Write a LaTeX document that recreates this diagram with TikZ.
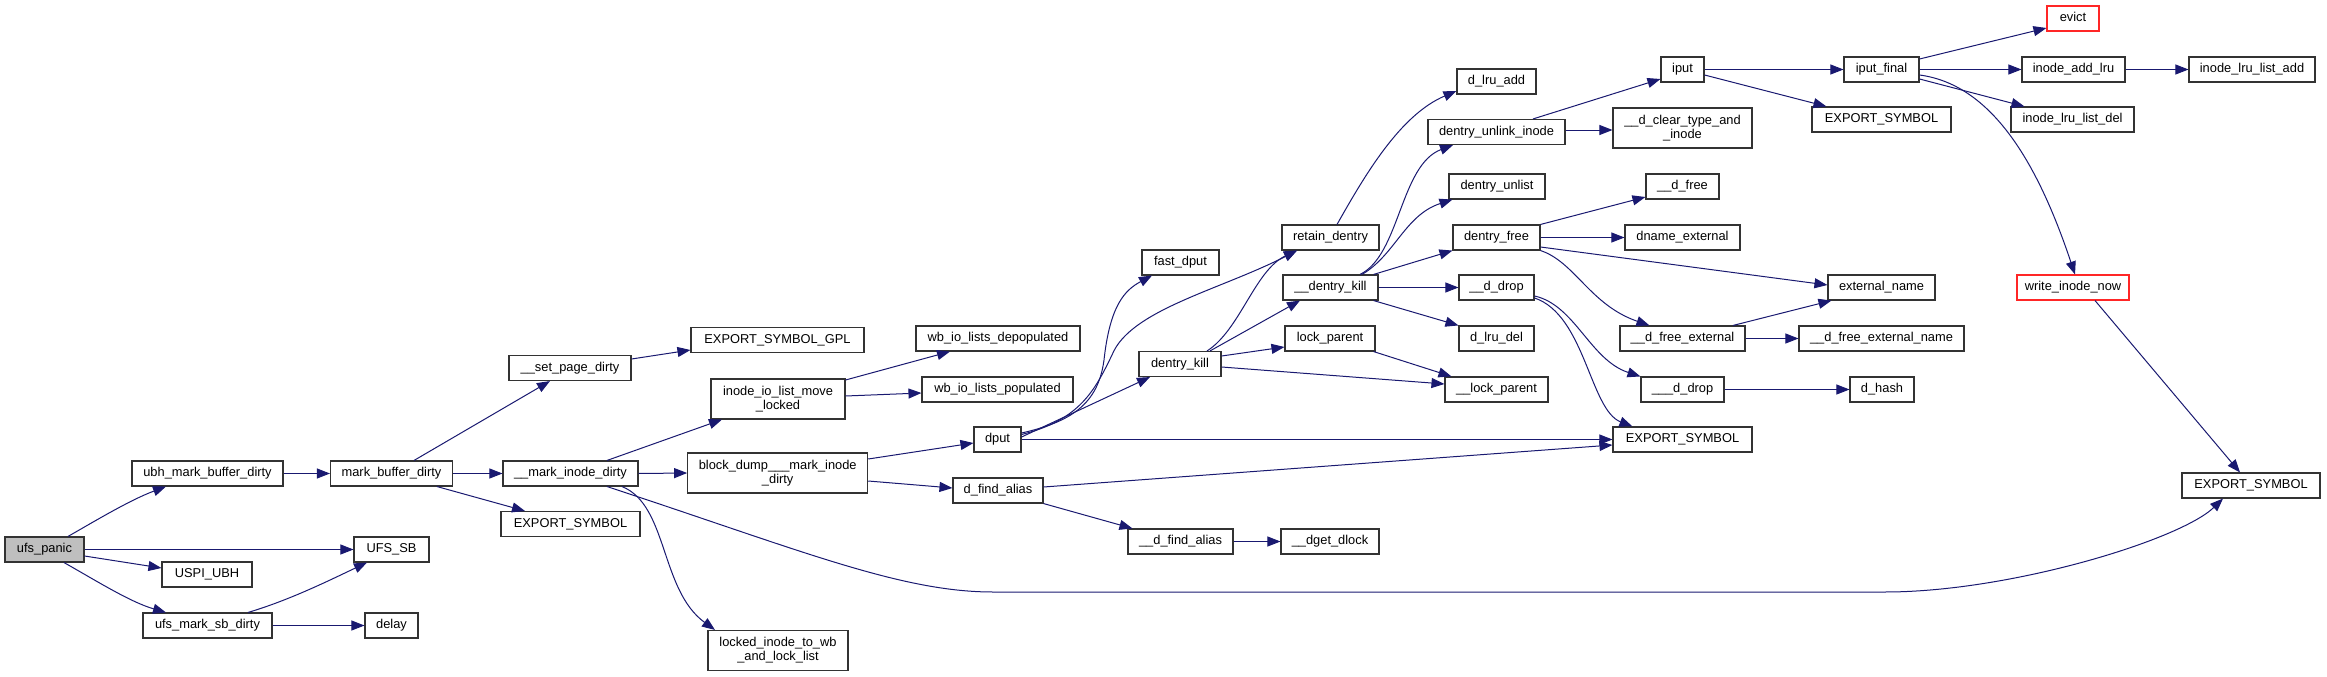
\documentclass[tikz,border=0pt]{standalone}
\usepackage{fontspec}
\setmainfont{Liberation Sans}
\usetikzlibrary{arrows.meta,calc}
\definecolor{edgeblue}{HTML}{191970}
\definecolor{grayfill}{HTML}{BFBFBF}
\begin{document}
\begin{tikzpicture}[x=1pt,y=-1pt,
  fn/.style={draw=black!80, line width=1.1pt, fill=white, inner sep=0pt,
    minimum height=25pt, font=\fontsize{12.85}{14}\selectfont,
    text height=9.3pt, text depth=2.7pt},
  fntwo/.style={draw=black!80, line width=1.1pt, fill=white, inner sep=0pt,
    minimum height=40pt, font=\fontsize{12.85}{14}\selectfont, align=center},
  redbox/.style={draw=red!85!white},
  edge/.style={draw=edgeblue, line width=1pt, -{Triangle[length=13pt,width=10pt]}}]
\useasboundingbox (0,0) rectangle (2327,677);

% column 0-1
\node[fn, minimum width=79pt, fill=grayfill] (panic) at (44.5,549.5) {ufs\_panic};
\node[fn, minimum width=151pt] (ubh) at (207.5,473.5) {ubh\_mark\_buffer\_dirty};
\node[fn, minimum width=90pt] (uspi) at (207,574.5) {USPI\_UBH};
\node[fn, minimum width=129pt] (umsd) at (207.5,625.5) {ufs\_mark\_sb\_dirty};
% column 2
\node[fn, minimum width=75pt] (ufssb) at (391.5,549.5) {UFS\_SB};
\node[fn, minimum width=53pt] (delay) at (391.5,625.5) {delay};
\node[fn, minimum width=122pt] (mbd) at (391.5,473.5) {mark\_buffer\_dirty};
% column 3
\node[fn, minimum width=122pt] (spd) at (570,368) {\_\_set\_page\_dirty};
\node[fn, minimum width=135pt] (mid) at (570.5,473.5) {\_\_mark\_inode\_dirty};
\node[fn, minimum width=139pt] (esb) at (570.5,524) {EXPORT\_SYMBOL};
% column 4
\node[fn, minimum width=173pt] (gpl) at (777.5,340) {EXPORT\_SYMBOL\_GPL};
\node[fntwo, minimum width=134pt] (iio) at (778,399) {inode\_io\_list\_move\\\_locked};
\node[fntwo, minimum width=180pt] (bd) at (777.7,473) {block\_dump\_\_\_mark\_inode\\\_dirty};
\node[fntwo, minimum width=140pt] (locked) at (778,650.5) {locked\_inode\_to\_wb\\\_and\_lock\_list};
% column 5
\node[fn, minimum width=164pt] (depop) at (998,338.5) {wb\_io\_lists\_depopulated};
\node[fn, minimum width=151pt] (pop) at (997.5,389.5) {wb\_io\_lists\_populated};
\node[fn, minimum width=47pt] (dput) at (997.5,439.5) {dput};
\node[fn, minimum width=90pt] (dfa) at (998,490.5) {d\_find\_alias};
% column 6
\node[fn, minimum width=77pt] (fdput) at (1180.5,262.5) {fast\_dput};
\node[fn, minimum width=82pt] (dk) at (1180,364) {dentry\_kill};
\node[fn, minimum width=105pt] (dfa2) at (1180.5,541.5) {\_\_d\_find\_alias};
% column 7
\node[fn, minimum width=97pt] (rd) at (1330.5,237.5) {retain\_dentry};
\node[fn, minimum width=95pt] (dentk) at (1330.5,287.5) {\_\_dentry\_kill};
\node[fn, minimum width=90pt] (lp) at (1330,338.5) {lock\_parent};
\node[fn, minimum width=98pt] (dget) at (1330,541.5) {\_\_dget\_dlock};
% column 8
\node[fn, minimum width=79pt] (dla) at (1496.5,81.5) {d\_lru\_add};
\node[fn, minimum width=137pt] (dui) at (1496.5,132) {dentry\_unlink\_inode};
\node[fn, minimum width=96pt] (dul) at (1497,186.5) {dentry\_unlist};
\node[fn, minimum width=87pt] (df) at (1496.5,237.5) {dentry\_free};
\node[fn, minimum width=75pt] (ddrop) at (1496.5,287.5) {\_\_d\_drop};
\node[fn, minimum width=75pt] (dld) at (1496.5,338.5) {d\_lru\_del};
\node[fn, minimum width=103pt] (lockp) at (1496.5,389.5) {\_\_lock\_parent};
% column 9
\node[fn, minimum width=43pt] (iput) at (1682.5,69.5) {iput};
\node[fntwo, minimum width=139pt] (dct) at (1682.5,128) {\_\_d\_clear\_type\_and\\\_inode};
\node[fn, minimum width=73pt] (dfree) at (1682.5,186.5) {\_\_d\_free};
\node[fn, minimum width=115pt] (dname) at (1682.5,237.5) {dname\_external};
\node[fn, minimum width=125pt] (dfe) at (1682.5,338.5) {\_\_d\_free\_external};
\node[fn, minimum width=83pt] (dddrop) at (1682.5,389.5) {\_\_\_d\_drop};
\node[fn, minimum width=139pt] (esm) at (1682.5,439.5) {EXPORT\_SYMBOL};
% column 10
\node[fn, minimum width=75pt] (ipf) at (1881.5,69.5) {iput\_final};
\node[fn, minimum width=139pt] (est) at (1881.5,119.5) {EXPORT\_SYMBOL};
\node[fn, minimum width=107pt] (en) at (1881.5,287.5) {external\_name};
\node[fn, minimum width=165pt] (dfen) at (1881.5,338.5) {\_\_d\_free\_external\_name};
\node[fn, minimum width=64pt] (dhash) at (1882,389.5) {d\_hash};
% column 11
\node[fn, redbox, minimum width=52pt] (evict) at (2073,18.5) {evict};
\node[fn, minimum width=103pt] (ial) at (2073.5,69.5) {inode\_add\_lru};
\node[fn, minimum width=123pt] (ild) at (2072.5,119.5) {inode\_lru\_list\_del};
\node[fn, redbox, minimum width=112pt] (win) at (2073,287.5) {write\_inode\_now};
% column 12
\node[fn, minimum width=126pt] (illa) at (2252,69.5) {inode\_lru\_list\_add};
\node[fn, minimum width=138pt] (esr) at (2251,485.5) {EXPORT\_SYMBOL};

% edges
\draw[edge] ($(panic.north)+(23.5,0)$) .. controls (95,521) and (130,500) .. ($(ubh.south)+(-41.5,0)$);
\draw[edge] (panic.east) -- (ufssb.west);
\draw[edge] ($(panic.east)+(0,6.5)$) -- ($(uspi.west)+(0,-6.5)$);
\draw[edge] ($(panic.south)+(19.5,0)$) .. controls (95,580) and (130,602) .. ($(umsd.north)+(-41.5,0)$);
\draw[edge] (ubh.east) -- (mbd.west);
\draw[edge] ($(umsd.north)+(40.5,0)$) .. controls (290,600) and (330,580) .. ($(ufssb.south)+(-24.5,0)$);
\draw[edge] (umsd.east) -- (delay.west);
\draw[edge] ($(mbd.north)+(22.5,0)$) -- ($(spd.south)+(-20,0)$);
\draw[edge] (mbd.east) -- (mid.west);
\draw[edge] ($(mbd.south)+(45.5,0)$) -- ($(esb.north)+(-45.5,0)$);
\draw[edge] ($(spd.east)+(0,-9)$) -- ($(gpl.west)+(0,10)$);
\draw[edge] ($(mid.north)+(36.5,0)$) -- ($(iio.south)+(-56,0)$);
\draw[edge] (mid.east) -- (bd.west);
\draw[edge] ($(mid.south)+(51.5,0)$) .. controls (668,505) and (660,590) .. ($(locked.north)+(-63,0)$);
\draw[edge] ($(mid.south)+(36.5,0)$) .. controls (800,550) and (900,592) .. (993,592) -- (1885,592) .. controls (2010,592) and (2180,540) .. ($(esr.south)+(-28,0)$);
\draw[edge] ($(iio.east)+(0,-19)$) -- ($(depop.south)+(-48,0)$);
\draw[edge] ($(iio.east)+(0,-3)$) -- ($(pop.west)+(0,3.5)$);
\draw[edge] ($(bd.east)+(0,-14)$) -- ($(dput.west)+(0,3.5)$);
\draw[edge] ($(bd.east)+(0,8)$) -- ($(dfa.west)+(0,-2.5)$);
\draw[edge] ($(dfa.east)+(0,-3.5)$) -- ($(esm.west)+(0,5.5)$);
\draw[edge] (dfa.south east) -- ($(dfa2.north west)+(5,0)$);
\draw[edge] (dfa2.east) -- (dget.west);
\draw[edge] ($(dput.east)+(0,-6.5)$) .. controls (1070,422) and (1098,405) .. (1104,360) .. controls (1110,305) and (1125,290) .. ($(fdput.south)+(-28.5,0)$);
\draw[edge] ($(dput.east)+(0,-5)$) .. controls (1080,420) and (1095,390) .. (1112,355) .. controls (1130,310) and (1220,290) .. ($(rd.south)+(-33.5,0)$);
\draw[edge] ($(dput.east)+(0,-2.5)$) -- ($(dk.south)+(-30,0)$);
\draw[edge] (dput.east) -- (esm.west);
\draw[edge] ($(dk.north)+(27,0)$) .. controls (1240,330) and (1255,270) .. ($(rd.south)+(-33.5,0)$);
\draw[edge] ($(dk.north)+(30,0)$) -- ($(dentk.south)+(-30.5,0)$);
\draw[edge] ($(dk.east)+(0,-8)$) -- ($(lp.west)+(0,8.5)$);
\draw[edge] ($(dk.east)+(0,3)$) -- ($(lockp.west)+(0,-5.5)$);
\draw[edge] ($(lp.south east)+(-2,0)$) -- ($(lockp.north west)+(7,0)$);
\draw[edge] ($(rd.north)+(6.5,0)$) .. controls (1365,175) and (1400,115) .. ($(dla.west)+(0,9.5)$);
\draw[edge] ($(dentk.north)+(29.5,0)$) .. controls (1400,255) and (1400,165) .. ($(dui.south)+(-43.5,0)$);
\draw[edge] ($(dentk.north)+(31.5,0)$) .. controls (1395,255) and (1405,215) .. ($(dul.south west)+(4,0)$);
\draw[edge] ($(dentk.north east)+(-5,0)$) -- (df.south west);
\draw[edge] (dentk.east) -- (ddrop.west);
\draw[edge] ($(dentk.south east)+(-5,0)$) -- (dld.north west);
\draw[edge] ($(dui.north)+(36.5,0)$) -- ($(iput.west)+(0,9.5)$);
\draw[edge] ($(dui.east)+(0,-2)$) -- ($(dct.west)+(0,2)$);
\draw[edge] (df.north east) -- ($(dfree.west)+(0,10.5)$);
\draw[edge] (df.east) -- (dname.west);
\draw[edge] ($(df.east)+(0,9.5)$) -- ($(en.west)+(0,-2.5)$);
\draw[edge] (df.south east) .. controls (1575,262) and (1590,305) .. ($(dfe.north west)+(30,0)$);
\draw[edge] ($(ddrop.east)+(0,8.5)$) .. controls (1575,305) and (1590,360) .. (dddrop.north west);
\draw[edge] ($(ddrop.east)+(0,10.5)$) .. controls (1585,315) and (1590,410) .. ($(esm.north west)+(20,0)$);
\draw[edge] ($(dfe.north)+(50.5,0)$) -- ($(en.south west)+(4,0)$);
\draw[edge] (dfe.east) -- (dfen.west);
\draw[edge] (dddrop.east) -- (dhash.west);
\draw[edge] (iput.east) -- (ipf.west);
\draw[edge] ($(iput.east)+(0,5.5)$) -- ($(est.north west)+(15,0)$);
\draw[edge] ($(ipf.east)+(0,-10.5)$) -- ($(evict.west)+(0,9.5)$);
\draw[edge] (ipf.east) -- (ial.west);
\draw[edge] (ial.east) -- (illa.west);
\draw[edge] ($(ipf.east)+(0,9.5)$) -- ($(ild.north west)+(14,0)$);
\draw[edge] ($(ipf.east)+(0,5.5)$) .. controls (1995,85) and (2040,170) .. ($(win.north)+(2,0)$);
\draw[edge] ($(win.south)+(22,0)$) -- ($(esr.north)+(-11,0)$);
\end{tikzpicture}
\end{document}
